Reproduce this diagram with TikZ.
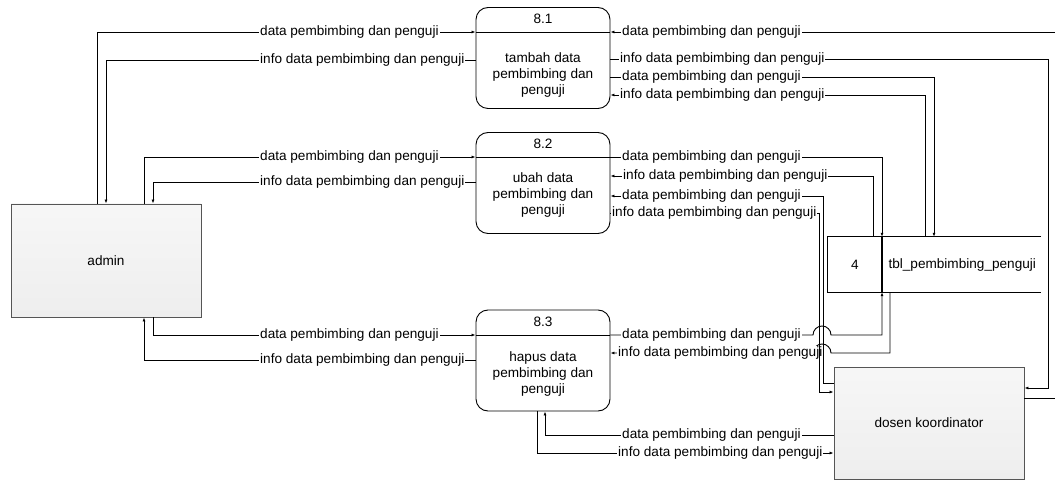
\documentclass[tikz,border=0pt]{standalone}
\usepackage{fontspec}
\setmainfont{Liberation Sans}
\usepackage{tikz}
\usetikzlibrary{arrows.meta,positioning,calc}
\usepackage{xcolor}
\definecolor{EntFill} {RGB}{238,238,238}
\definecolor{EntLine} {RGB}{85, 85, 85}

\begin{document}
\begin{tikzpicture}[x=1pt,y=-1pt,
    font=\fontsize{13.6}{15.6}\selectfont,
    flow/.style={-{Latex[length=4pt,width=3pt]},line width=0.9pt},
    flowlbl/.style={fill=white,inner xsep=1pt,inner ysep=0.5pt,anchor=west},
    extbox/.style={draw=EntLine,line width=0.9pt,top color=EntFill!50,bottom color=EntFill,
      minimum width=190pt,minimum height=113pt},
    procbox/.style={draw,line width=0.9pt,rounded corners=12pt,fill=white,
      minimum width=134pt,minimum height=101pt},
    storeline/.style={line width=1.2pt}]
  \useasboundingbox (0,0) rectangle (1055,481);
  \clip (0,0) rectangle (1055,481);

  % external entities and data store
  \node[extbox] (admin) at (106,260.5) {admin};
  \node[extbox,minimum height=112pt] (dosen) at (929,423) {dosen koordinator};
  \node[minimum width=213pt,minimum height=55pt,inner sep=0pt] (tbl) at (934.5,264.5) {};
  \draw[storeline] (tbl.north east) -- (tbl.north west) -- (tbl.south west) -- (tbl.south east);
  \draw[storeline] (tbl.north -| 882,0) -- (tbl.south -| 882,0);
  \node (tblno) at (855,264.5) {4};
  \node[anchor=west] (tblname) at (885,264.5) {tbl\_pembimbing\_penguji};

  % processes
  \node[procbox] (p1) at (543,58) {};
  \draw[line width=0.9pt] (p1.west |- 0,32) -- (p1.east |- 0,32);
  \node (n1) at (543,19) {8.1};
  \node[align=center] (t1) at (543,75) {tambah data\\pembimbing dan\\penguji};

  \node[procbox] (p2) at (543,183) {};
  \draw[line width=0.9pt] (p2.west |- 0,157) -- (p2.east |- 0,157);
  \node (n2) at (543,144) {8.2};
  \node[align=center] (t2) at (543,195) {ubah data\\pembimbing dan\\penguji};

  \node[procbox] (p3) at (543,360.5) {};
  \draw[line width=0.9pt] (p3.west |- 0,335) -- (p3.east |- 0,335);
  \node (n3) at (543,322) {8.3};
  \node[align=center] (t3) at (543,374) {hapus data\\pembimbing dan\\penguji};

  % 8.1
  \draw[flow] (admin.north -| 97,0) |- (p1.west |- 0,32);
  \node[flowlbl] (la1) at (259,32) {data pembimbing dan penguji};
  \draw[flow] (p1.west |- 0,60) -| (admin.north -| 106,0);
  \node[flowlbl] (la2) at (259,60) {info data pembimbing dan penguji};
  \draw[flow] (dosen.east |- 0,398) -- (1070,398) -- (1070,32) -- (p1.east |- 0,32);
  \node[flowlbl] (lb1) at (621,32) {data pembimbing dan penguji};
  \draw[flow] (p1.east |- 0,59) -| (1048,388) -- (dosen.east |- 0,388);
  \node[flowlbl] (lb2) at (619,59) {info data pembimbing dan penguji};
  \draw[flow] (p1.east |- 0,77) -| (tbl.north -| 934,0);
  \node[flowlbl] (lb3) at (621,77) {data pembimbing dan penguji};
  \draw[flow] (tbl.north -| 925,0) |- (p1.east |- 0,95);
  \node[flowlbl] (lb4) at (619,95) {info data pembimbing dan penguji};

  % 8.3
  \draw[flow] (admin.south -| 153,0) |- (p3.west |- 0,335);
  \node[flowlbl] (la5) at (259,335) {data pembimbing dan penguji};
  \draw[flow] (p3.west |- 0,360) -| (admin.south -| 144,0);
  \node[flowlbl] (la6) at (259,360) {info data pembimbing dan penguji};
  \draw[flow] (p3.east |- 0,335) -- (813,335) arc[start angle=180,end angle=0,radius=9pt]
    -- (882,335) -- (tbl.south -| 882,0);
  \node[flowlbl] (lb9) at (621,335) {data pembimbing dan penguji};
  \draw[flow] (tbl.south -| 890,0) |- (831,353) arc[start angle=0,end angle=180,radius=9pt]
    -- (p3.east |- 0,353);
  \node[flowlbl] (lb10) at (617,353) {info data pembimbing dan penguji};
  \draw[flow] (dosen.west |- 0,435) -| (p3.south -| 545,0);
  \node[flowlbl] (lc1) at (621,435) {data pembimbing dan penguji};
  \draw[flow] (p3.south -| 537,0) |- (dosen.west |- 0,453);
  \node[flowlbl] (lc2) at (617,453) {info data pembimbing dan penguji};

  % 8.2
  \draw[flow] (admin.north -| 144,0) |- (p2.west |- 0,157);
  \node[flowlbl] (la3) at (259,157) {data pembimbing dan penguji};
  \draw[flow] (p2.west |- 0,182) -| (admin.north -| 153,0);
  \node[flowlbl] (la4) at (259,182) {info data pembimbing dan penguji};
  \draw[flow] (p2.east |- 0,157) -| (tbl.north -| 882,0);
  \node[flowlbl] (lb5) at (621,157) {data pembimbing dan penguji};
  \draw[flow] (tbl.north -| 873,0) |- (p2.east |- 0,176);
  \node[flowlbl] (lb6) at (622,176) {info data pembimbing dan penguji};
  \draw[flow] (dosen.west |- 0,383) -- (823,383) -- (823,196) -- (p2.east |- 0,196);
  \node[flowlbl] (lb7) at (621,196) {data pembimbing dan penguji};
  \draw[flow] (p2.east |- 0,213) -| (819,392) -- (dosen.west |- 0,392);
  \node[flowlbl] (lb8) at (611,213) {info data pembimbing dan penguji};
\end{tikzpicture}
\end{document}
